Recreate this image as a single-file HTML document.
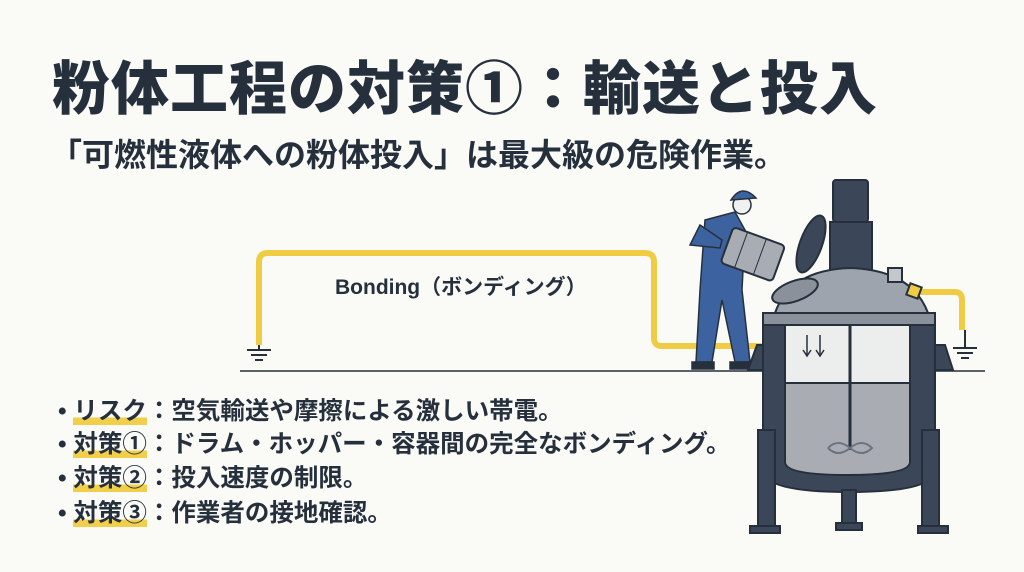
<!DOCTYPE html>
<html><head><meta charset="utf-8"><style>
body{margin:0;width:1024px;height:572px;background:#fafaf7;overflow:hidden;position:relative;font-family:"Liberation Sans","Noto Sans CJK JP",sans-serif;color:#26303c}
.t{position:absolute;left:52px;top:42px;font-size:58px;font-weight:900;letter-spacing:1px;white-space:nowrap}
.s{position:absolute;left:50px;top:130px;font-size:32px;font-weight:700;white-space:nowrap}
.b{position:absolute;left:58px;font-size:24.5px;font-weight:700;white-space:nowrap}
.h{background:linear-gradient(transparent 72%,#f2cf4a 72%)}
.lab{position:absolute;left:335px;top:271px;font-size:21px;font-weight:700;white-space:nowrap}
</style></head><body>
<div class="t">粉体工程の対策①：輸送と投入</div>
<div class="s">「可燃性液体への粉体投入」は最大級の危険作業。</div>
<svg width="1024" height="572" style="position:absolute;left:0;top:0">
<g fill="none" stroke="#f0cc45" stroke-width="6" stroke-linejoin="round">
<path d="M259 345 V262 Q259 253 268 253 H645 Q654 253 654 262 V338 Q654 346 662 346 H765"/>
<path d="M918 292 H955 Q962 292 962 300 V330"/>
</g>
<g stroke="#26303c" stroke-width="2">
<line x1="259" y1="345" x2="259" y2="350"/><line x1="247" y1="350" x2="271" y2="350"/><line x1="251" y1="355" x2="267" y2="355"/><line x1="255" y1="360" x2="263" y2="360"/>
<line x1="965" y1="330" x2="965" y2="348"/><line x1="953" y1="348" x2="977" y2="348"/><line x1="957" y1="353" x2="973" y2="353"/><line x1="961" y1="358" x2="969" y2="358"/>
<line x1="240" y1="371" x2="985" y2="371" stroke-width="1.5"/>
</g>
<!-- worker -->
<g fill="#3c63a0" stroke="#26303c" stroke-width="1.5">
<path d="M705 220 L735 212 L745 230 L742 290 L750 362 L735 362 L722 300 L712 362 L696 362 L700 290 Z"/>
<path d="M700 225 L690 245 L720 248 L722 240 Z"/>
<circle cx="742" cy="205" r="9" fill="#f1f1f1"/>
<path d="M731 200 Q742 183 756 198 Z" fill="#3c63a0"/>
<rect x="692" y="362" width="22" height="7" fill="#26303c"/><rect x="730" y="362" width="22" height="7" fill="#26303c"/>
</g>
<g transform="rotate(20 752 255)"><rect x="725" y="235" width="55" height="38" rx="4" fill="#a8adb3" stroke="#26303c" stroke-width="2"/><line x1="740" y1="235" x2="740" y2="273" stroke="#26303c"/><line x1="760" y1="235" x2="760" y2="273" stroke="#26303c"/></g>
<!-- reactor -->
<g stroke="#26303c" stroke-width="2">
<rect x="833" y="180" width="35" height="42" rx="3" fill="#3b4658"/>
<path d="M830 222 H872 V272 H830 Z" fill="#3b4658"/>
<path d="M775 313 Q790 270 850 268 Q912 270 928 313 Z" fill="#9ea4ad"/>
<rect x="888" y="268" width="14" height="14" fill="#c4c8cd"/>
<rect x="908" y="285" width="12" height="12" fill="#f0cc45" transform="rotate(20 914 291)"/>
<rect x="763" y="313" width="172" height="12" fill="#8a919b"/>
<path d="M763 325 H935 V470 Q935 492 849 492 Q763 492 763 470 Z" fill="#3b4658"/>
<rect x="785" y="325" width="125" height="58" fill="#eceded"/>
<path d="M785 383 H910 V462 Q910 475 848 475 Q785 475 785 462 Z" fill="#a9adb3"/>
<line x1="850" y1="325" x2="850" y2="450" stroke-width="3"/>
<path d="M757 345 L763 345 L763 370 L748 370 Z M935 345 L945 345 L953 370 L935 370 Z" fill="#3b4658"/>
<path d="M758 430 H775 V528 H758 Z M922 430 H939 V528 H922 Z M842 490 H856 V528 H842 Z" fill="#3b4658"/>
<rect x="750" y="526" width="30" height="7" fill="#3b4658"/><rect x="918" y="526" width="30" height="7" fill="#3b4658"/><rect x="836" y="523" width="26" height="7" fill="#3b4658"/>
<ellipse cx="795" cy="291" rx="24" ry="10" fill="#8a919b" transform="rotate(-20 795 291)"/>
<ellipse cx="811" cy="244" rx="11" ry="30" fill="#3b4658" transform="rotate(20 811 244)"/>
<path d="M807 335 V355 M820 335 V355" stroke-width="1.5"/>
<path d="M803 350 L807 356 L811 350 M816 350 L820 356 L824 350" fill="none" stroke-width="1.5"/>
<path d="M828 448 Q838 438 850 448 Q862 458 872 448 Q862 438 850 448 Q838 458 828 448" fill="none" stroke="#6b7280"/>
</g>
</svg>
<div class="lab">Bonding（ボンディング）</div>
<div class="b" style="top:392px">• <span class="h">リスク</span>：空気輸送や摩擦による激しい帯電。</div>
<div class="b" style="top:425px">• <span class="h">対策①</span>：ドラム・ホッパー・容器間の完全なボンディング。</div>
<div class="b" style="top:459px">• <span class="h">対策②</span>：投入速度の制限。</div>
<div class="b" style="top:494px">• <span class="h">対策③</span>：作業者の接地確認。</div>
</body></html>
